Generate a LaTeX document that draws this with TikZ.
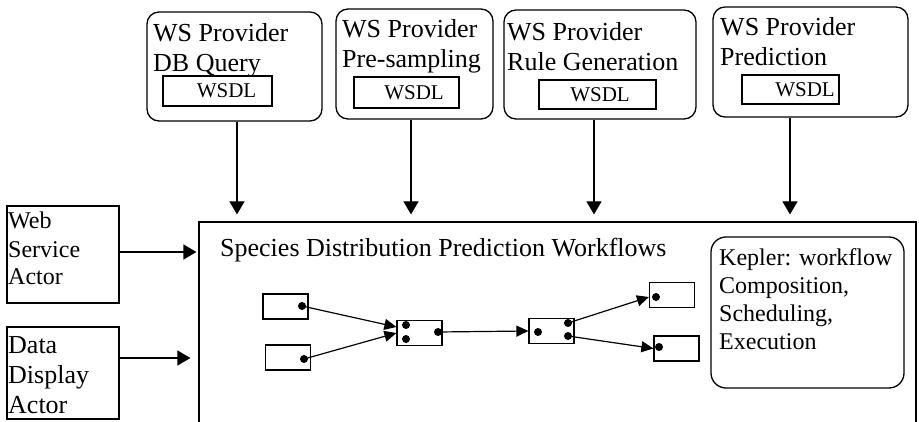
\documentclass[tikz,border=0pt]{standalone}
\usepackage{fontspec}
\setmainfont{Liberation Serif}
\usetikzlibrary{arrows.meta}

\tikzset{
  provider/.style={draw, rounded corners=12pt, line width=1.3pt, inner sep=0pt},
  wsdl/.style={draw, line width=1.2pt, inner sep=0pt,
    font=\fontsize{21}{24}\selectfont},
  actor/.style={draw, line width=1.2pt, inner sep=0pt},
  block/.style={draw, line width=1.2pt, minimum width=45pt, minimum height=25pt, inner sep=0pt},
  port/.style={circle, fill=black, minimum size=8pt, inner sep=0pt},
  bigtext/.style={anchor=base west, align=left, inner sep=0pt,
    font=\fontsize{26}{30}\selectfont},
  midtext/.style={anchor=base west, align=left, inner sep=0pt,
    font=\fontsize{24}{28}\selectfont},
  bigarrow/.style={-{Triangle[length=13pt,width=15pt]}, line width=1.2pt},
  smallarrow/.style={-{Triangle[length=12pt,width=11pt]}, line width=1.2pt}
}

\begin{document}
\begin{tikzpicture}[x=1pt,y=-1pt]
    \useasboundingbox (0,0) rectangle (919,422);

    % web service providers
    \node[provider, minimum width=175pt, minimum height=109pt] (p1) at (234.5,66.5) {};
    \node[provider, minimum width=157pt, minimum height=110pt] (p2) at (414.5,64) {};
    \node[provider, minimum width=192pt, minimum height=109pt] (p3) at (600,64.5) {};
    \node[provider, minimum width=195pt, minimum height=110pt] (p4) at (810.5,62) {};

    % text nodes sit on the baseline of their last line
    \node[bigtext] (p1t) at (153,72) {WS Provider\\DB Query};
    \node[bigtext] (p2t) at (342,68) {WS Provider\\Pre-sampling};
    \node[bigtext] (p3t) at (507,71) {WS Provider\\Rule Generation};
    \node[bigtext] (p4t) at (720,66) {WS Provider\\Prediction};

    \node[wsdl, minimum width=109pt, minimum height=30pt] (w1) at (217.5,91) {\hspace*{18pt}WSDL};
    \node[wsdl, minimum width=105pt, minimum height=31pt] (w2) at (406.5,92.5) {\hspace*{15pt}WSDL};
    \node[wsdl, minimum width=117pt, minimum height=29pt] (w3) at (597.5,94.5) {\hspace*{5pt}WSDL};
    \node[wsdl, minimum width=97pt, minimum height=29pt] (w4) at (790.5,89.5) {\hspace*{29pt}WSDL};

    % actors
    \node[actor, minimum width=112pt, minimum height=97pt] (ws) at (63,254.5) {};
    \node[actor, minimum width=112pt, minimum height=92pt] (dd) at (63,373) {};
    \node[midtext] (wst) at (8,285) {Web\\Service\\Actor};
    \node[bigtext] (ddt) at (8,413) {Data\\Display\\Actor};

    % workflow area, open at the bottom
    \node[draw, line width=1.2pt, minimum width=717pt, minimum height=228pt] (wf) at (557.5,336) {};
    \node[bigtext] (wft) at (220,257) {Species Distribution Prediction Workflows};

    \node[provider, rounded corners=15pt, minimum width=193pt, minimum height=151pt] (kep) at (807.5,312.5) {};
    \node[midtext] (kept) at (719,349) {Kepler: workflow\\Composition,\\Scheduling,\\Execution};

    % workflow blocks
    \node[block] (a1) at (285.5,306.5) {};
    \node[block] (a2) at (288,357.5) {};
    \node[block] (b) at (419.5,333) {};
    \node[block] (c) at (551.5,331) {};
    \node[block] (d1) at (672,295) {};
    \node[block] (d2) at (676.5,348.5) {};

    \node[port] (a1o) at (302,306) {};
    \node[port] (a2o) at (304,359) {};
    \node[port] (bi1) at (406,325) {};
    \node[port] (bi2) at (406,339) {};
    \node[port] (bo) at (438,332) {};
    \node[port] (ci) at (538,332) {};
    \node[port] (co1) at (568,323) {};
    \node[port] (co2) at (568,336) {};
    \node[port] (d1i) at (656,297) {};
    \node[port] (d2i) at (659,347) {};

    \draw[smallarrow] (a1o.center) -- ([yshift=6pt]b.west);
    \draw[smallarrow] (a2o.center) -- (b.west);
    \draw[smallarrow] (bo.center) -- (c.west);
    \draw[smallarrow] (co1.center) -- ([yshift=-2pt]d1.west);
    \draw[smallarrow] (co2.center) -- (d2.west);

    % providers into workflows
    \coordinate (s1) at ([xshift=2.5pt]p1.south);
    \coordinate (s2) at ([xshift=-3.5pt]p2.south);
    \coordinate (s3) at ([xshift=-6pt]p3.south);
    \coordinate (s4) at ([xshift=-20.5pt]p4.south);
    \foreach \s in {s1,s2,s3,s4}
        \draw[bigarrow, shorten >=7pt] (\s) -- (\s |- wf.north);

    % actors into workflows
    \coordinate (wso) at ([yshift=2.5pt]ws.east);
    \coordinate (ddo) at ([yshift=15pt]dd.east);
    \draw[bigarrow, shorten >=2pt] (wso) -- (wso -| wf.west);
    \draw[bigarrow, shorten >=8pt] (ddo) -- (ddo -| wf.west);
\end{tikzpicture}
\end{document}
